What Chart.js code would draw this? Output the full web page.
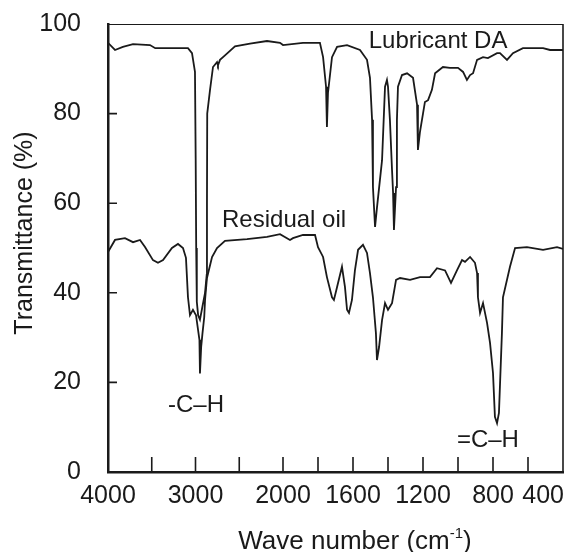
<!DOCTYPE html>
<html lang="en">
<head>
<meta charset="UTF-8">
<title>IR spectra - Lubricant DA and residual oil</title>
<script src="https://cdn.jsdelivr.net/npm/chart.js"></script>
<style>
  body { margin: 0; background: #fff; }
  #wrap { width: 577px; height: 552px; }
</style>
</head>
<body>
<div id="wrap"><canvas id="irChart" width="577" height="552"></canvas></div>
<script>
// wave number (cm-1) and transmittance (%)
const lubricantWave = [
  4000, 3920, 3830, 3714, 3520, 3460, 3086, 3040, 3006, 2998,
  2992, 2985, 2970, 2949, 2920, 2891, 2872, 2869, 2866, 2834,
  2800, 2754, 2743, 2720, 2663, 2549, 2377, 2183, 2034, 2000,
  1886, 1789, 1771, 1754, 1749, 1743, 1720, 1691, 1634, 1560,
  1520, 1503, 1491, 1486, 1474, 1463, 1434, 1417, 1406, 1400,
  1389, 1377, 1371, 1366, 1354, 1349, 1343, 1320, 1291, 1257,
  1234, 1229, 1217, 1200, 1189, 1171, 1149, 1131, 1086, 1046,
  1000, 971, 949, 931, 914, 891, 857, 829, 777, 760,
  720, 686, 629, 514, 474, 400
];
const lubricantT = [
  95.8, 94.2, 94.9, 95.5, 95.3, 94.6, 94.6, 93.5, 89.3, 70,
  50, 38, 35, 34, 37, 40, 44, 60, 80, 85.3,
  90.4, 91.5, 90.8, 92.0, 93, 95, 95.6, 96.2, 95.8, 95.3,
  95.8, 95.8, 92.6, 86, 77, 84.6, 92.6, 94.9, 95.3, 94.2,
  92, 88, 78.6, 63.6, 54.7, 59, 69.6, 86, 87.5, 86,
  78.6, 67.4, 62.3, 54, 63.6, 78.6, 86, 88.6, 89, 88,
  82, 71.9, 76, 80, 82.6, 83, 85.3, 89, 90.4, 90.2,
  90.2, 89.3, 87.5, 88.6, 89, 92, 92.6, 92.4, 93.5, 93.5,
  92, 93.5, 94.6, 94.6, 94.2, 94.2
];

const residualWave = [
  4000, 3920, 3806, 3714, 3634, 3577, 3486, 3429, 3371, 3269,
  3200, 3143, 3109, 3086, 3063, 3029, 2994, 2955, 2949, 2935,
  2920, 2900, 2891, 2869, 2811, 2754, 2663, 2411, 2183, 2034,
  1960, 1943, 1886, 1817, 1800, 1771, 1749, 1720, 1709, 1691,
  1663, 1646, 1634, 1623, 1606, 1589, 1571, 1543, 1520, 1503,
  1486, 1469, 1463, 1451, 1434, 1417, 1400, 1377, 1354, 1331,
  1274, 1217, 1160, 1120, 1074, 1040, 1006, 977, 960, 931,
  903, 891, 886, 874, 857, 834, 817, 800, 789, 777,
  766, 749, 743, 703, 674, 606, 514, 434, 400
];
const residualT = [
  49.1, 51.8, 52.2, 51.3, 51.8, 50.2, 47.3, 46.7, 47.3, 50,
  50.9, 50, 47.8, 39, 35, 36.2, 35, 29.5, 22, 28,
  31, 34.6, 38.4, 43.3, 48, 50, 51.6, 52, 52.5, 53.1,
  51.8, 52.2, 52.9, 52.9, 50.2, 48, 43.5, 39, 38.4, 41.3,
  45.8, 41.3, 36.2, 35.5, 38.4, 45, 49.6, 50.7, 48.9, 44.4,
  39, 31, 25, 27.9, 33.9, 37.7, 36.2, 37.7, 42.9, 43.3,
  42.9, 43.5, 43.5, 45.5, 45, 42.2, 45, 47.3, 46.9, 48,
  46.7, 44.4, 39, 35.5, 37.7, 33.3, 28.8, 22.1, 12.3, 10.9,
  13.2, 31, 39, 45.8, 50, 50.2, 49.6, 50.2, 49.8
];

const tickLabelWaves = [4000, 3000, 2000, 1600, 1200, 800, 400];
const tickMarkWaves = [3500, 3000, 2500, 2000, 1800, 1600, 1400, 1200, 1000, 800, 600];
const yTickMarks = [20, 40, 60, 80];

// text placed in data units (wave number, transmittance at the text baseline)
const noteTexts = ['Lubricant DA', 'Residual oil', '-C\u2013H', '=C\u2013H'];
const noteWaves = [1114, 1994, 2994, 829];
const noteT = [94.6, 54.7, 13.4, 5.6];

const ink = '#1a1a1a';
const fontFamily = '"Liberation Sans", Arial, Helvetica, sans-serif';

// the x axis changes scale at 2000 cm-1 (twice as wide below it)
function toAxis(w) { return w >= 2000 ? 4000 - w : 2000 + 2 * (2000 - w); }

function points(waves, ts) {
  return waves.map((w, i) => ({ x: toAxis(w), y: ts[i] }));
}

const framePlugin = {
  id: 'frame',
  afterDraw(chart) {
    const { ctx, chartArea: a, scales: { x, y } } = chart;
    ctx.save();
    ctx.strokeStyle = ink;
    ctx.lineWidth = 1.2;
    ctx.beginPath();
    ctx.moveTo(a.left, a.top + 0.5);
    ctx.lineTo(a.right, a.top + 0.5);
    ctx.stroke();
    ctx.lineWidth = 1.6;
    ctx.beginPath();
    ctx.moveTo(a.right, a.top);
    ctx.lineTo(a.right, a.bottom);
    ctx.stroke();

    // tick marks point into the plot
    ctx.beginPath();
    tickMarkWaves.forEach(w => {
      const px = x.getPixelForValue(toAxis(w));
      ctx.moveTo(px, a.bottom);
      ctx.lineTo(px, a.bottom - 15);
    });
    yTickMarks.forEach(v => {
      const py = y.getPixelForValue(v);
      ctx.moveTo(a.left, py);
      ctx.lineTo(a.left + 9, py);
    });
    ctx.stroke();

    ctx.fillStyle = ink;
    ctx.textBaseline = 'alphabetic';
    ctx.textAlign = 'left';

    // x tick labels, the last one is kept inside the frame
    ctx.font = '25px ' + fontFamily;
    tickLabelWaves.forEach(w => {
      const txt = String(w);
      const tw = ctx.measureText(txt).width;
      const px = x.getPixelForValue(toAxis(w));
      const left = Math.min(px + tw / 2, a.right + 1) - tw;
      ctx.fillText(txt, left, a.bottom + 31);
    });

    ctx.textAlign = 'center';
    ctx.font = '24px ' + fontFamily;
    noteTexts.forEach((t, i) => {
      ctx.fillText(t, x.getPixelForValue(toAxis(noteWaves[i])), y.getPixelForValue(noteT[i]));
    });

    // axis titles
    ctx.save();
    ctx.translate(25, 233);
    ctx.rotate(-Math.PI / 2);
    ctx.textBaseline = 'middle';
    ctx.font = '25px ' + fontFamily;
    ctx.fillText('Transmittance (%)', 0, 0);
    ctx.restore();

    const main = 'Wave number (cm';
    ctx.font = '26px ' + fontFamily;
    const wMain = ctx.measureText(main).width;
    const wClose = ctx.measureText(')').width;
    ctx.font = '15px ' + fontFamily;
    const wSup = ctx.measureText('-1').width;
    const total = wMain + wSup + wClose;
    let cx = 355 - total / 2;
    const base = 549;
    ctx.textAlign = 'left';
    ctx.font = '26px ' + fontFamily;
    ctx.fillText(main, cx, base);
    cx += wMain;
    ctx.font = '15px ' + fontFamily;
    ctx.fillText('-1', cx, base - 11);
    cx += wSup;
    ctx.font = '26px ' + fontFamily;
    ctx.fillText(')', cx, base);
    ctx.restore();
  }
};

const lineStyle = {
  showLine: true,
  borderColor: ink,
  borderWidth: 1.8,
  pointRadius: 0,
  tension: 0,
  fill: false
};

new Chart(document.getElementById('irChart'), {
  type: 'scatter',
  data: {
    datasets: [
      Object.assign({ label: 'Lubricant DA', data: points(lubricantWave, lubricantT) }, lineStyle),
      Object.assign({ label: 'Residual oil', data: points(residualWave, residualT) }, lineStyle)
    ]
  },
  options: {
    responsive: false,
    animation: false,
    layout: { padding: { left: 0, right: 14, top: 24, bottom: 0 } },
    plugins: { legend: { display: false }, tooltip: { enabled: false } },
    scales: {
      x: {
        type: 'linear',
        min: 0,
        max: 5200,
        grid: { display: false, drawTicks: false },
        border: { display: true, color: ink, width: 2.5 },
        afterBuildTicks(scale) {
          scale.ticks = tickLabelWaves.map(w => ({ value: toAxis(w) }));
        },
        afterFit(scale) {
          scale.height = 80;
          scale.paddingLeft = 0;
          scale.paddingRight = 0;
        },
        ticks: { display: false }
      },
      y: {
        min: 0,
        max: 100,
        grid: { display: false, drawTicks: false },
        border: { display: true, color: ink, width: 2.5 },
        afterFit(scale) {
          scale.width = 108;
          scale.paddingTop = 0;
          scale.paddingBottom = 0;
        },
        ticks: {
          stepSize: 20,
          padding: 27,
          color: ink,
          font: { family: fontFamily, size: 25 }
        }
      }
    }
  },
  plugins: [framePlugin]
});
</script>
</body>
</html>
